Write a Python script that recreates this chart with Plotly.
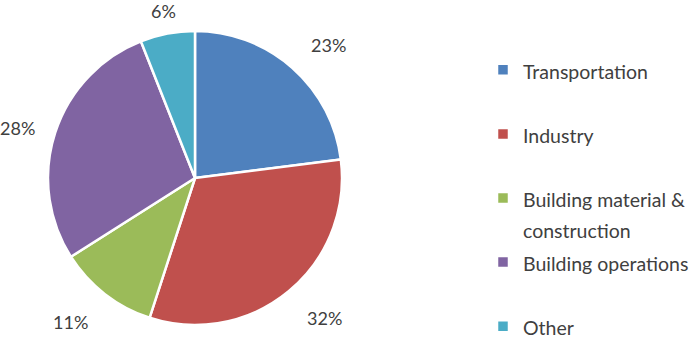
import math
import plotly.graph_objects as go

# ---- data ----
categories = ["Transportation", "Industry", "Building material &<br>construction",
              "Building operations", "Other"]
shares = [23, 32, 11, 28, 6]
colors = ["#4F81BD", "#C0504D", "#9BBB59", "#8064A2", "#4BACC6"]

# ---- layout constants (pixels) ----
W, H = 692, 341
CX, CY, R = 195, 178, 147
TEXT_COLOR = "#404040"
FONT = "Lato, Carlito, Calibri, sans-serif"

# legend labels: two lines per entry (except the last) so entries are evenly spaced
legend_labels = []
for i, c in enumerate(categories):
    lines = c.split("<br>")
    if len(lines) == 1 and i < len(categories) - 1:
        lines.append("&nbsp;")
    legend_labels.append("<br>".join(f"<span style='font-size:19.5px'>{l}</span>" for l in lines))

fig = go.Figure()
fig.add_trace(go.Pie(
    labels=legend_labels,
    values=shares,
    sort=False,
    direction="clockwise",
    rotation=0,
    marker=dict(colors=colors, line=dict(color="white", width=2.5)),
    textinfo="none",
    hovertemplate="%{label}: %{value}%<extra></extra>",
    domain=dict(x=[(CX - R) / W, (CX + R) / W], y=[(H - CY - R) / H, (H - CY + R) / H]),
))

# percentage labels placed outside each slice, computed from the values
total = sum(shares)
annotations = []
cum = 0
for v in shares:
    theta = 2 * math.pi * (cum + v / 2) / total
    cum += v
    s, c = math.sin(theta), math.cos(theta)
    gap = 15 + 10 * abs(math.sin(2 * theta))
    d = R + gap
    px = CX + d * s
    py = CY - d * c
    xa = "left" if s > 0.35 else ("right" if s < -0.35 else "center")
    if c > 0.35:
        ya, py = "bottom", py + 9
    elif c < -0.35:
        ya, py = "top", py - 5
    else:
        ya, py = "middle", py + 2
        px += 2
    annotations.append(dict(
        x=px / W, y=1 - py / H, xref="paper", yref="paper",
        text=f"{v}%", showarrow=False, xanchor=xa, yanchor=ya,
        font=dict(family=FONT, size=18, color=TEXT_COLOR),
    ))

fig.update_layout(
    width=W, height=H,
    margin=dict(l=0, r=0, t=0, b=0, autoexpand=False),
    paper_bgcolor="white", plot_bgcolor="white",
    showlegend=True,
    legend=dict(
        x=483 / W, xanchor="left", y=1 - 48 / H, yanchor="top",
        font=dict(family=FONT, size=23.5, color=TEXT_COLOR),
        valign="top", bgcolor="rgba(0,0,0,0)",
    ),
    annotations=annotations,
)

fig.write_html("out.html", config={"displayModeBar": False},
               post_script="document.body.style.margin='0';")
